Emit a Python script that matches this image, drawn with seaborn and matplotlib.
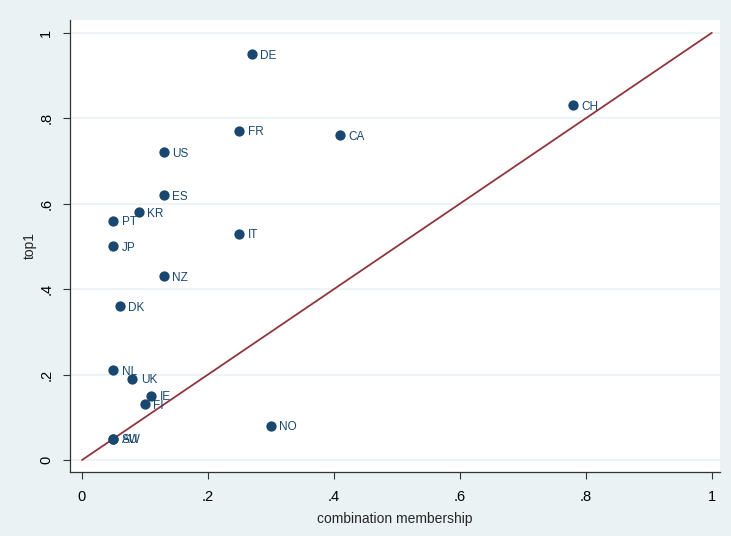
import numpy as np
import pandas as pd
import matplotlib
matplotlib.use("Agg")
import matplotlib.pyplot as plt
import seaborn as sns

# data
country = ["DE", "CH", "FR", "CA", "US", "ES", "KR", "PT", "IT", "JP",
           "NZ", "DK", "NL", "UK", "IE", "FI", "NO", "AU", "SW"]
membership = [0.27, 0.78, 0.25, 0.41, 0.13, 0.13, 0.09, 0.05, 0.25, 0.05,
              0.13, 0.06, 0.05, 0.08, 0.11, 0.10, 0.30, 0.05, 0.05]
top1 = [0.95, 0.83, 0.77, 0.76, 0.72, 0.62, 0.58, 0.56, 0.53, 0.50,
        0.43, 0.36, 0.21, 0.19, 0.15, 0.13, 0.08, 0.05, 0.05]
ticks = [0, 0.2, 0.4, 0.6, 0.8, 1]
tick_labels = ["0", ".2", ".4", ".6", ".8", "1"]

df = pd.DataFrame({"country": country, "membership": membership, "top1": top1})

bg = "#EAF2F3"
navy = "#1A476F"
maroon = "#90353B"

sns.set_style("white")
plt.rcParams["font.family"] = ["Liberation Sans", "DejaVu Sans"]

fig = plt.figure(figsize=(7.31, 5.36), dpi=100, facecolor=bg)
ax = fig.add_axes([70 / 731, 64 / 536, 650 / 731, 452 / 536])
ax.set_facecolor("white")

for t in ticks:
    ax.axhline(t, color=bg, lw=1.2, zorder=0)

ax.plot([0, 1], [0, 1], color=maroon, lw=1.3, zorder=2)
sns.scatterplot(data=df, x="membership", y="top1", color=navy, s=55,
                edgecolor=navy, linewidth=0, ax=ax, zorder=3)
for c, x, y in zip(country, membership, top1):
    ax.annotate(c, (x, y), xytext=(6, -1), textcoords="offset points",
                va="center", ha="left", fontsize=8.5, color=navy, zorder=4)

ax.set_xlim(-0.019, 1.013)
ax.set_ylim(-0.028, 1.03)
ax.set_xticks(ticks)
ax.set_xticklabels(tick_labels)
ax.set_yticks(ticks)
ax.set_yticklabels(tick_labels, rotation=90, va="center")
ax.tick_params(axis="both", which="major", bottom=True, left=True,
               direction="out", length=5, width=0.8, color="#333333",
               labelcolor="black", labelsize=10.5)
ax.tick_params(axis="x", pad=8)
ax.tick_params(axis="y", pad=7)

for side in ["top", "right"]:
    ax.spines[side].set_visible(False)
for side in ["left", "bottom"]:
    ax.spines[side].set_color("#333333")
    ax.spines[side].set_linewidth(0.9)

ax.set_xlabel("combination membership", fontsize=10, labelpad=6)
ax.set_ylabel("top1", fontsize=10, labelpad=2)

fig.savefig("out.png", dpi=100, facecolor=bg)
